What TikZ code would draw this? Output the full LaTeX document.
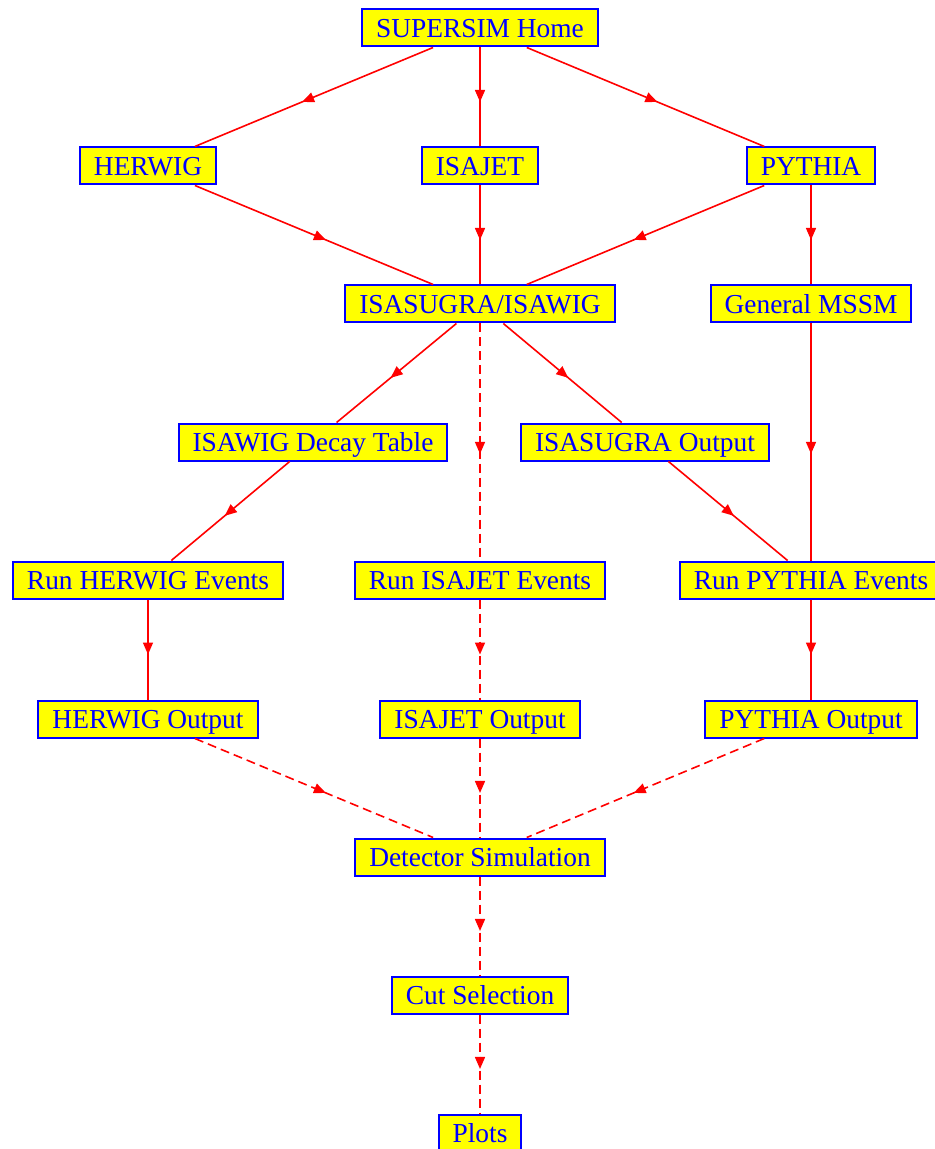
\documentclass[tikz,border=0pt]{standalone}
\usepackage{fontspec}
\setmainfont{Liberation Serif}
\usetikzlibrary{arrows.meta, decorations.markings}
\definecolor{boxFill}{RGB}{255, 255, 0}
\definecolor{boxLine}{RGB}{0, 0, 255}
\definecolor{linkRed}{RGB}{255, 0, 0}

\tikzset{
  stage/.style={draw=boxLine, fill=boxFill, text=boxLine, line width=1pt,
    inner xsep=7pt, inner ysep=0pt, minimum height=18.5pt,
    text height=9.1pt, text depth=0pt},
  link/.style={color=linkRed, line width=0.8pt, postaction={decorate},
    decoration={markings, mark=at position 0.55 with
      {\arrow{Triangle[length=6pt, width=5pt]}}}},
  dlink/.style={link, dash pattern=on 4.5pt off 2.5pt},
}

\begin{document}
\begin{tikzpicture}[x=0.5pt, y=-0.5pt, font=\fontsize{13.7}{16}\selectfont]
  \useasboundingbox (0,0) rectangle (935,1149);

  % Generators
  \node[stage] (home) at (480,28) {SUPERSIM Home};
  \node[stage] (herwig) at (148,166) {HERWIG};
  \node[stage] (isajet) at (480,166) {ISAJET};
  \node[stage] (pythia) at (811,166) {PYTHIA};

  % Spectra
  \node[stage] (isasugra) at (480,304) {ISASUGRA/ISAWIG};
  \node[stage] (mssm) at (811,304) {General MSSM};
  \node[stage] (decay) at (313,442) {ISAWIG Decay Table};
  \node[stage] (sugraout) at (645,442) {ISASUGRA Output};

  % Event runs
  \node[stage] (runherwig) at (148,580) {Run HERWIG Events};
  \node[stage] (runisajet) at (480,580) {Run ISAJET Events};
  \node[stage] (runpythia) at (811,580) {Run PYTHIA Events};
  \node[stage] (herwigout) at (148,719) {HERWIG Output};
  \node[stage] (isajetout) at (480,719) {ISAJET Output};
  \node[stage] (pythiaout) at (811,719) {PYTHIA Output};

  % Analysis
  \node[stage] (detector) at (480,857) {Detector Simulation};
  \node[stage] (cuts) at (480,995) {Cut Selection};
  \node[stage] (plots) at (480,1133) {Plots};

  \draw[link] (home) -- (herwig);
  \draw[link] (home) -- (isajet);
  \draw[link] (home) -- (pythia);
  \draw[link] (herwig) -- (isasugra);
  \draw[link] (isajet) -- (isasugra);
  \draw[link] (pythia) -- (isasugra);
  \draw[link] (pythia) -- (mssm);
  \draw[link] (isasugra) -- (decay);
  \draw[link] (isasugra) -- (sugraout);
  \draw[dlink] (isasugra) -- (runisajet);
  \draw[link] (mssm) -- (runpythia);
  \draw[link] (decay) -- (runherwig);
  \draw[link] (sugraout) -- (runpythia);
  \draw[link] (runherwig) -- (herwigout);
  \draw[dlink] (runisajet) -- (isajetout);
  \draw[link] (runpythia) -- (pythiaout);
  \draw[dlink] (herwigout) -- (detector);
  \draw[dlink] (isajetout) -- (detector);
  \draw[dlink] (pythiaout) -- (detector);
  \draw[dlink] (detector) -- (cuts);
  \draw[dlink] (cuts) -- (plots);
\end{tikzpicture}
\end{document}
